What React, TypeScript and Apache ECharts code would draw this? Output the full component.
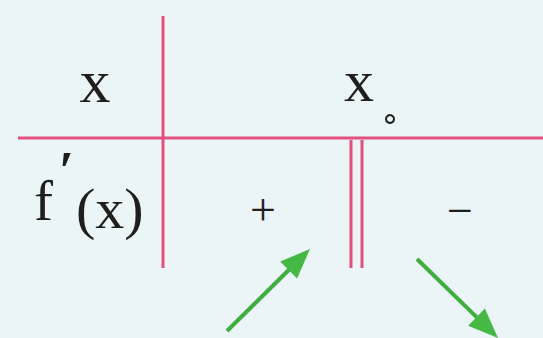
import React, { useEffect, useRef } from "react";
import * as echarts from "echarts";

const rowLabels = ["x", "f", "′", "(x)"];
const criticalPoint = "x";
const signs = ["+", "−"];
const arrows = [
  { from: [227, 331], to: [310, 249] },
  { from: [417, 259], to: [498, 338] },
];

const PINK = "#e2507f";
const GREEN = "#3fae3f";
const FONT = "'Liberation Serif', 'DejaVu Serif', serif";
const ASC = 0.88;

function arrowHead(from: number[], to: number[], len: number, half: number) {
  const dx = to[0] - from[0];
  const dy = to[1] - from[1];
  const d = Math.sqrt(dx * dx + dy * dy);
  const ux = dx / d, uy = dy / d;
  const bx = to[0] - ux * len, by = to[1] - uy * len;
  return [
    [to[0], to[1]],
    [bx - uy * half, by + ux * half],
    [bx + uy * half, by - ux * half],
  ];
}

export default function App() {
  const ref = useRef<HTMLDivElement>(null);
  useEffect(() => {
    document.body.style.margin = "0";
    const chart = echarts.init(ref.current!, null, { renderer: "svg" });
    // y is the baseline; converted to top-aligned box
    const txt = (x: number, baseline: number, text: string, size: number, align = "center", weight = "normal") => ({
      type: "text",
      x,
      y: baseline - ASC * size,
      style: { text, fill: "#1e1e1e", font: `${weight} ${size}px ${FONT}`, align, verticalAlign: "top" },
    });
    const ln = (x1: number, y1: number, x2: number, y2: number) => ({
      type: "line",
      shape: { x1, y1, x2, y2 },
      style: { stroke: PINK, lineWidth: 3 },
    });
    const elements: any[] = [
      ln(18, 138, 543, 138),
      ln(163, 16, 163, 268),
      ln(351, 140, 351, 268),
      ln(362, 140, 362, 268),
      txt(95, 105, rowLabels[0], 62),
      txt(359, 104, criticalPoint, 60),
      { type: "circle", shape: { cx: 390, cy: 119, r: 4 }, style: { fill: "none", stroke: "#1e1e1e", lineWidth: 2 } },
      txt(34, 222, rowLabels[1], 57, "left"),
      txt(59, 192, rowLabels[2], 54, "left", "bold"),
      txt(76, 231, rowLabels[3], 58, "left"),
      txt(263, 227, signs[0], 46),
      txt(460, 228, signs[1], 46),
    ];
    arrows.forEach((a) => {
      const head = arrowHead(a.from, a.to, 30, 12);
      const back = arrowHead(a.from, a.to, 22, 0)[1];
      elements.push({
        type: "line",
        shape: { x1: a.from[0], y1: a.from[1], x2: back[0], y2: back[1] },
        style: { stroke: GREEN, lineWidth: 4 },
      });
      elements.push({ type: "polygon", shape: { points: head }, style: { fill: "#45b845" } });
    });
    chart.setOption({
      animation: false,
      backgroundColor: "#ebf4f6",
      graphic: { elements },
    });
    return () => chart.dispose();
  }, []);
  return <div ref={ref} style={{ width: 543, height: 338 }} />;
}
